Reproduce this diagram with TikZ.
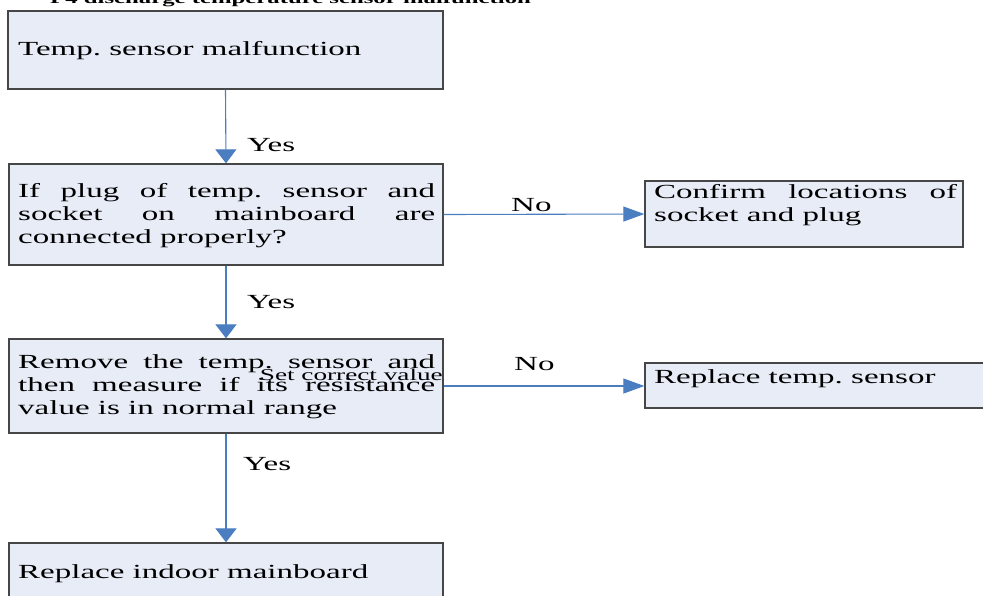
\documentclass[tikz,border=0pt]{standalone}
\usepackage{fontspec}
\setmainfont{Liberation Serif}[FakeStretch=1.65]
\usetikzlibrary{arrows.meta}
\definecolor{boxfill}{RGB}{231,236,247}
\definecolor{boxline}{RGB}{70,70,70}
\definecolor{arrowblue}{RGB}{74,126,193}
\frenchspacing
\newcommand\jpar[2]{\parbox[t]{#1}{\fontsize{20}{23}\selectfont\frenchspacing\setlength\parindent{0pt}\sloppy #2}}
\begin{document}
\begin{tikzpicture}[x=1pt,y=-1pt,
  box/.style={draw=boxline,line width=1.3pt,fill=boxfill,rectangle,inner sep=0pt},
  txt/.style={inner sep=0pt,font=\fontsize{20}{23}\selectfont},
  lbl/.style={inner sep=0pt,font=\fontsize{20}{23}\selectfont},
  vflow/.style={draw=arrowblue,line width=1.1pt,-{Triangle[length=14pt,width=21pt]}},
  hflow/.style={draw=arrowblue,line width=1.1pt,-{Triangle[length=21pt,width=15pt]}}]
\useasboundingbox (0,0) rectangle (983,595);
\clip (0,0) rectangle (983,595);
% title (clipped at top)
\node[inner sep=0pt,anchor=base west,font=\fontsize{15}{18}\selectfont\bfseries] (title) at (50,3.5) {F4 discharge temperature sensor malfunction};
% boxes
\node[box,minimum width=435pt,minimum height=78pt] (b1) at (225.5,50) {};
\node[box,minimum width=434pt,minimum height=101pt] (b2) at (226,214.5) {};
\node[box,minimum width=318pt,minimum height=66pt] (b3) at (804,214) {};
\node[box,minimum width=434pt,minimum height=94pt] (b4) at (226,386) {};
\node[box,minimum width=347pt,minimum height=45pt] (b5) at (818.5,385.5) {};
\node[box,minimum width=434pt,minimum height=67pt] (b6) at (226,576.5) {};
% texts
\node[txt,anchor=base west] (t1) at (18,55) {Temp. sensor malfunction};
\node[txt,anchor=base west] (t2) at (18,197) {\jpar{417pt}{If plug of temp. sensor and\linebreak socket on mainboard are\linebreak connected properly?}};
\node[txt,anchor=base west] (t3) at (654,198) {\jpar{303pt}{Confirm locations of\linebreak socket and plug}};
\node[txt,anchor=base west] (t4) at (18,368) {\jpar{417pt}{Remove the temp. sensor and\linebreak then measure if its resistance\linebreak value is in normal range}};
\node[txt,anchor=base west] (t5) at (654,383) {Replace temp. sensor};
\node[txt,anchor=base west] (t6) at (18,578) {Replace indoor mainboard};
\node[inner sep=0pt,anchor=base east,font=\fontsize{16.5}{18}\selectfont] (scv) at (443,380) {Set correct value};
% connectors
\draw[vflow] (b1.south) -- (b2.north);
\draw[vflow] (b2.south) -- (b4.north);
\draw[vflow] (b4.south) -- (b6.north);
\draw[hflow] (b2.east) -- (b3.west);
\draw[hflow] (b4.east) -- (b4.east -| b5.west);
% labels
\node[lbl,anchor=base west] (y1) at (247,151) {Yes};
\node[lbl,anchor=base west] (y2) at (247,308) {Yes};
\node[lbl,anchor=base west] (y3) at (243,470) {Yes};
\node[lbl,anchor=base west] (n1) at (511,211) {No};
\node[lbl,anchor=base west] (n2) at (514,370) {No};
\end{tikzpicture}
\end{document}
